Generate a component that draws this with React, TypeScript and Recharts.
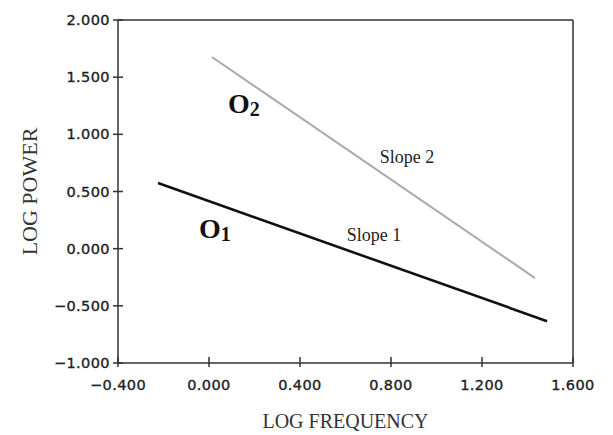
import { LineChart, Line, XAxis, YAxis, ReferenceLine, ReferenceDot } from "recharts";

// log frequency / log power end points of the two fitted lines
const slope1Freq = [-0.224, 1.486];
const slope1Power = [0.574, -0.634];
const slope2Freq = [0.013, 1.433];
const slope2Power = [1.676, -0.257];

const xTicks = [-0.4, 0, 0.4, 0.8, 1.2, 1.6];
const yTicks = [-1, -0.5, 0, 0.5, 1, 1.5, 2];

// annotation anchors (data coords) and their text
const noteText = ["Slope 2", "Slope 1"];
const noteFreq = [0.87, 0.725];
const notePower = [0.793, 0.111];

const osLabel = ["O", "O"];
const osSub = ["2", "1"];
const osFreq = [0.0835, -0.044];
const osPower = [1.187, 0.093];

const line1 = slope1Freq.map((f, i) => ({ f, p: slope1Power[i] }));
const line2 = slope2Freq.map((f, i) => ({ f, p: slope2Power[i] }));

const fmt = (v: number) => v.toFixed(3).replace("-", "\u2212");
const tickFont = {
  fontFamily: "DejaVu Sans",
  fontSize: 14.5,
  fill: "#222",
  stroke: "#222",
  strokeWidth: 0.35,
  letterSpacing: 0.4,
};
const serif = "Liberation Serif";

function YTick(props: any) {
  const { x, y, payload } = props;
  return (
    <g>
      <line x1={x - 5} x2={x + 5} y1={y} y2={y} stroke="#333" strokeWidth={1.5} />
      <text x={x - 8} y={y} dy={5} textAnchor="end" {...tickFont}>
        {fmt(payload.value)}
      </text>
    </g>
  );
}

function XTick(props: any) {
  const { x, y, payload } = props;
  return (
    <g>
      <line x1={x} x2={x} y1={y - 6} y2={y + 4} stroke="#333" strokeWidth={1.5} />
      <text x={x} y={y + 27} textAnchor="middle" {...tickFont}>
        {fmt(payload.value)}
      </text>
    </g>
  );
}

export default function App() {
  return (
    <div style={{ position: "absolute", left: 0, top: 0, background: "#fff" }}>
      <LineChart width={613} height={435} margin={{ top: 20, right: 40, left: 0, bottom: 0 }}>
        <XAxis
          type="number"
          dataKey="f"
          domain={[-0.4, 1.6]}
          ticks={xTicks}
          allowDataOverflow
          height={72}
          tickSize={0}
          tickMargin={0}
          tick={<XTick />}
          stroke="#333"
          strokeWidth={1.5}
          label={({ viewBox }: any) => (
            <text x={viewBox.x + viewBox.width / 2} y={viewBox.y + 65} textAnchor="middle" fontFamily={serif} fontSize={20} fill="#333">
              LOG FREQUENCY
            </text>
          )}
        />
        <YAxis
          type="number"
          dataKey="p"
          domain={[-1, 2]}
          ticks={yTicks}
          allowDataOverflow
          width={118}
          tickSize={0}
          tickMargin={0}
          tick={<YTick />}
          stroke="#333"
          strokeWidth={1.5}
          label={({ viewBox }: any) => {
            const cx = viewBox.x + 37;
            const cy = viewBox.y + viewBox.height / 2;
            return (
              <text x={cx} y={cy} transform={`rotate(-90, ${cx}, ${cy})`} textAnchor="middle" fontFamily={serif} fontSize={22} fill="#333">
                LOG POWER
              </text>
            );
          }}
        />
        <ReferenceLine y={2} stroke="#333" strokeWidth={1.5} />
        <ReferenceLine x={1.6} stroke="#333" strokeWidth={1.5} />
        <Line data={line2} dataKey="p" stroke="#aaa" strokeWidth={2} dot={false} isAnimationActive={false} />
        <Line data={line1} dataKey="p" stroke="#111" strokeWidth={2.6} dot={false} isAnimationActive={false} />
        {noteText.map((t, i) => (
          <ReferenceDot
            key={t}
            x={noteFreq[i]}
            y={notePower[i]}
            r={0}
            stroke="none"
            label={({ viewBox }: any) => (
              <text x={viewBox.x} y={viewBox.y} dy={5} textAnchor="middle" fontFamily={serif} fontSize={18} fill="#222">
                {t}
              </text>
            )}
          />
        ))}
        {osLabel.map((t, i) => (
          <ReferenceDot
            key={"o" + i}
            x={osFreq[i]}
            y={osPower[i]}
            r={0}
            stroke="none"
            label={({ viewBox }: any) => (
              <text x={viewBox.x} y={viewBox.y} fontFamily={serif} fontWeight="bold" fontSize={28} fill="#111">
                {t}
                <tspan fontSize={20} dy={3}>{osSub[i]}</tspan>
              </text>
            )}
          />
        ))}
      </LineChart>
    </div>
  );
}
